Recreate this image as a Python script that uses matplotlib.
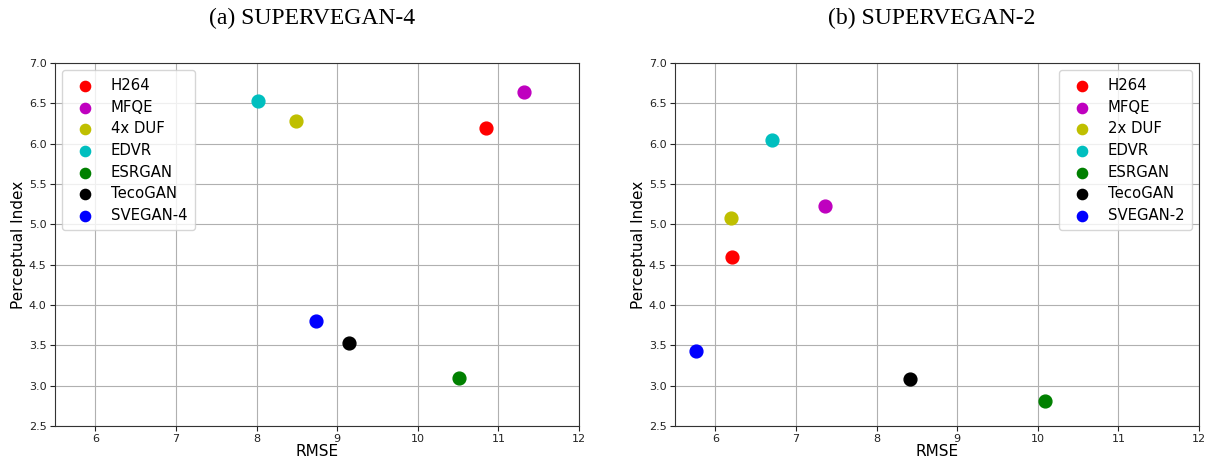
import matplotlib.pyplot as plt
import numpy as np

methods_4 = ['H264', 'MFQE', '4x DUF', 'EDVR', 'ESRGAN', 'TecoGAN', 'SVEGAN-4']
rmse_4 = [10.84, 11.32, 8.49, 8.02, 10.51, 9.14, 8.74]
pi_4 = [6.19, 6.645, 6.28, 6.525, 3.10, 3.535, 3.80]

methods_2 = ['H264', 'MFQE', '2x DUF', 'EDVR', 'ESRGAN', 'TecoGAN', 'SVEGAN-2']
rmse_2 = [6.21, 7.36, 6.20, 6.70, 10.09, 8.42, 5.765]
pi_2 = [4.595, 5.23, 5.08, 6.045, 2.815, 3.08, 3.43]

colors = ['r', 'm', 'y', 'c', 'g', 'k', 'b']
titles = ['(a) SUPERVEGAN-4', '(b) SUPERVEGAN-2']

fig = plt.figure(figsize=(12.09, 4.59), dpi=100)
ax1 = fig.add_axes([0.0455, 0.0719, 0.4335, 0.7908])
ax2 = fig.add_axes([0.5583, 0.0719, 0.4335, 0.7908])

data = [(ax1, methods_4, rmse_4, pi_4, 'upper left'),
        (ax2, methods_2, rmse_2, pi_2, 'upper right')]

for ax, names, xs, ys, loc in data:
    for name, x, y, c in zip(names, xs, ys, colors):
        ax.scatter(x, y, s=85, color=c, label=name, zorder=3)
    ax.set_xlim(5.5, 12)
    ax.set_ylim(2.5, 7.0)
    ax.set_xticks(np.arange(6, 13, 1))
    ax.set_yticks(np.arange(2.5, 7.01, 0.5))
    ax.grid(True, color='#b0b0b0', linewidth=0.8)
    ax.set_axisbelow(True)
    ax.tick_params(labelsize=8, colors='#222222', pad=2.5)
    ax.set_xlabel('RMSE', fontsize=11, labelpad=0)
    ax.set_ylabel('Perceptual Index', fontsize=11, labelpad=2)
    ax.legend(loc=loc, fontsize=10.7, handletextpad=0.75, labelspacing=0.45,
              borderpad=0.5, markerscale=0.8)
    for sp in ax.spines.values():
        sp.set_color('#333333')

fig.text(0.258, 0.959, titles[0], ha='center', va='center',
         fontsize=17, family='Liberation Serif')
fig.text(0.771, 0.959, titles[1], ha='center', va='center',
         fontsize=17, family='Liberation Serif')

fig.savefig('out.png', dpi=100)
